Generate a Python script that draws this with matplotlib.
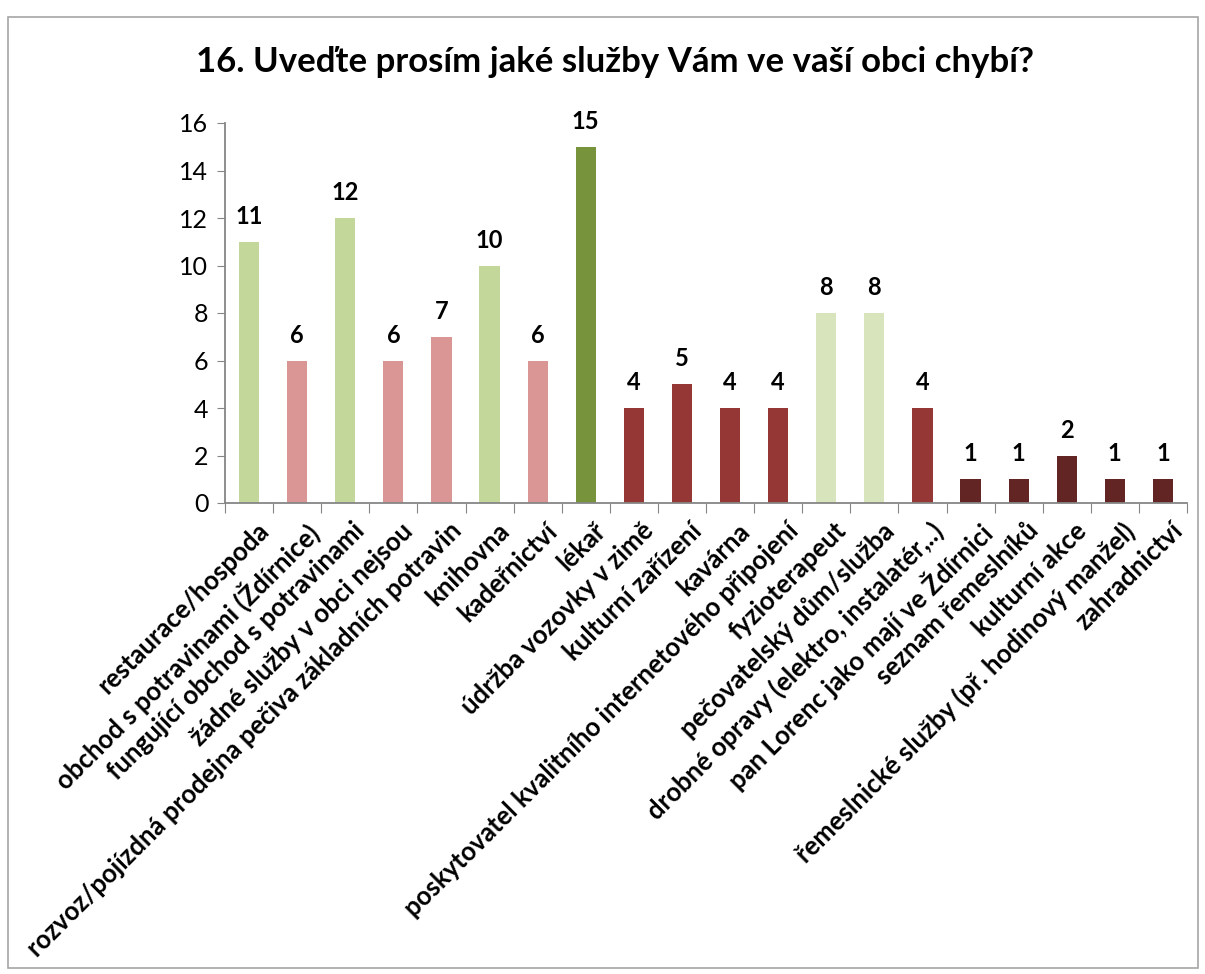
import matplotlib
matplotlib.use("Agg")
import matplotlib.pyplot as plt
from matplotlib.patches import Rectangle
import numpy as np

categories = [
    "restaurace/hospoda",
    "obchod s potravinami (Ždírnice)",
    "fungující obchod s potravinami",
    "žádné služby v obci nejsou",
    "rozvoz/pojízdná prodejna pečiva základních potravin",
    "knihovna",
    "kadeřnictví",
    "lékař",
    "údržba vozovky v zimě",
    "kulturní zařízení",
    "kavárna",
    "poskytovatel kvalitního internetového připojení",
    "fyzioterapeut",
    "pečovatelský dům/služba",
    "drobné opravy (elektro, instalatér,..)",
    "pan Lorenc jako mají ve Ždírnici",
    "seznam řemeslníků",
    "kulturní akce",
    "řemeslnické služby (př. hodinový manžel)",
    "zahradnictví",
]
values = [11, 6, 12, 6, 7, 10, 6, 15, 4, 5, 4, 4, 8, 8, 4, 1, 1, 2, 1, 1]
colors = ["#C4D79B", "#DA9694", "#C4D79B", "#DA9694", "#DA9694", "#C4D79B",
          "#DA9694", "#77933C", "#953735", "#953735", "#953735", "#953735",
          "#D8E4BC", "#D8E4BC", "#953735", "#632523", "#632523", "#632523",
          "#632523", "#632523"]
title = "16. Uveďte prosím jaké služby Vám ve vaší obci chybí?"

plt.rcParams['font.family'] = ['Lato', 'DejaVu Sans']

fig = plt.figure(figsize=(12.05, 9.74), dpi=100)
fig.patches.append(Rectangle((8/1205, 1-968/974), 1190/1205, (968-17)/974,
                             transform=fig.transFigure, fill=False,
                             edgecolor="#A6A6A6", linewidth=1.2))

ax = fig.add_axes([225/1205, 1-503/974, (1187-225)/1205, (503-123)/974])
x = np.arange(len(values))
ax.bar(x, values, width=0.42, color=colors, zorder=2)
ax.set_xlim(-0.5, len(values) - 0.5)
ax.set_ylim(0, 16)
ax.set_yticks(range(0, 17, 2))
ax.tick_params(axis='y', labelsize=18, length=6, color="#868686", pad=6)
ax.set_xticks(np.arange(-0.5, len(values), 1.0))
ax.set_xticklabels([])
ax.tick_params(axis='x', length=7, color="#868686")
for s in ['top', 'right']:
    ax.spines[s].set_visible(False)
for s in ['left', 'bottom']:
    ax.spines[s].set_color("#868686")
    ax.spines[s].set_linewidth(1.3)

for xi, v in zip(x, values):
    ax.annotate(str(v), (xi, v), xytext=(0, 10), textcoords='offset points',
                ha='center', va='bottom', fontsize=17, fontweight='bold')

for xi, lab in zip(x, categories):
    ax.annotate(lab, (xi + 0.15, 0), xytext=(0, -11), textcoords='offset points',
                ha='right', va='top', rotation=45, rotation_mode='anchor',
                fontsize=18.5, fontweight='bold')

fig.text(615/1205, 1-62/974, title, ha='center', va='center',
         fontsize=25, fontweight='bold')

fig.savefig("out.png", dpi=100)
